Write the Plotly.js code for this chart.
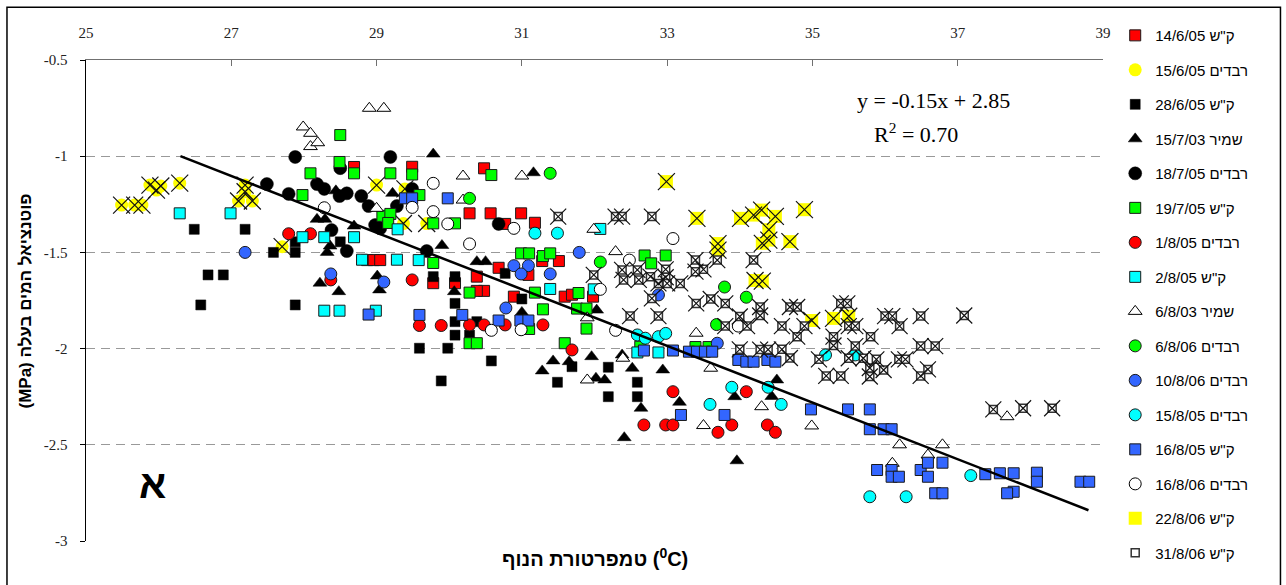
<!DOCTYPE html>
<html><head><meta charset="utf-8">
<script src="https://cdn.plot.ly/plotly-3.0.1.min.js"></script>
<style>body{margin:0;background:#fff}#chart{width:1286px;height:585px}</style>
</head><body><div id="chart"></div>
<script>
const LRM = '\u200E';
// ---- series names (legend labels) ----
const names = [
  '14/6/05 ק"ש', '15/6/05 רבדים', '28/6/05 ק"ש', '15/7/03 שמיר',
  '18/7/05 רבדים', '19/7/05 ק"ש', '1/8/05 רבדים', '2/8/05 ק"ש',
  '6/8/03 שמיר', '6/8/06 רבדים', '10/8/06 רבדים', '15/8/05 רבדים',
  '16/8/05 ק"ש', '16/8/06 רבדים', '22/8/06 ק"ש', '31/8/06 ק"ש'
];
// ---- 14/6/05 ק"ש ----
const s1x = [28.69,29.49,30.48,30.28,30.57,30.99,31.18,30.77,28.87,28.96,29.05,29.78,30.08,30.38,30.48,30.38,30.68,31.09,31.28,31.51,30.89,31.59,31.69,31.98];
const s1y = [-1.056,-1.055,-1.063,-1.297,-1.297,-1.297,-1.346,-1.352,-1.54,-1.54,-1.54,-1.66,-1.66,-1.626,-1.70,-1.70,-1.58,-1.617,-1.545,-1.545,-1.73,-1.73,-1.72,-1.73];
// ---- 15/6/05 רבדים ----
const s2x = [25.49,25.67,25.77,25.88,25.97,26.03,26.29,27.10,27.19,27.19,27.29,27.70,29.00,29.39,29.37,29.69];
const s2y = [-1.254,-1.254,-1.254,-1.15,-1.176,-1.155,-1.14,-1.233,-1.15,-1.185,-1.233,-1.47,-1.15,-1.17,-1.35,-1.35];
// ---- 28/6/05 ק"ש ----
const s3x = [26.49,26.68,26.89,26.58,27.19,27.58,27.88,27.88,27.88,28.50,29.78,30.08,30.77,31.00,30.08,30.08,30.38,30.08,30.28,29.59,29.98,30.58,29.89,31.49,31.69,32.19,32.59,32.19,32.59];
const s3y = [-1.38,-1.617,-1.617,-1.773,-1.38,-1.50,-1.50,-1.445,-1.773,-1.445,-1.626,-1.626,-1.609,-1.742,-1.765,-1.86,-1.86,-1.93,-1.93,-1.998,-1.998,-2.064,-2.168,-2.175,-2.094,-2.097,-2.175,-2.25,-2.25];
// ---- 15/7/03 שמיר ----
const s4x = [29.78,31.16,29.22,28.44,28.18,28.29,28.69,28.36,28.32,29.90,30.38,30.50,29.01,29.04,28.22,28.48,30.07,31.00,32.03,31.28,31.43,31.65,31.96,32.02,32.14,32.52,32.38,32.94,32.64,33.17,32.41,33.93,33.96,34.51,34.44];
const s4y = [-0.989,-1.086,-1.193,-1.18,-1.328,-1.328,-1.363,-1.467,-1.50,-1.464,-1.548,-1.548,-1.623,-1.695,-1.66,-1.704,-1.704,-1.812,-1.80,-2.116,-2.064,-2.068,-2.042,-2.154,-2.163,-2.102,-2.033,-2.111,-2.31,-2.279,-2.463,-2.25,-2.583,-2.163,-2.249];
// ---- 18/7/05 רבדים ----
const s5x = [27.88,29.19,27.49,27.79,28.18,28.28,28.49,28.59,28.79,28.89,29.28,29.49,28.50,28.38,28.59,28.98,29.05,29.69,30.68];
const s5y = [-1.004,-1.004,-1.145,-1.196,-1.145,-1.17,-1.207,-1.193,-1.207,-1.259,-1.259,-1.17,-1.062,-1.384,-1.493,-1.358,-1.375,-1.493,-1.352];
// ---- 19/7/05 ק"ש ----
const s6x = [28.50,28.49,28.69,28.09,27.98,29.19,29.49,29.59,29.08,29.19,29.16,29.78,29.78,30.58,30.08,30.99,31.10,31.29,31.39,31.18,31.78,30.28,31.29,31.76,31.89,31.89,31.10,30.28,30.38,31.59,32.69,32.98,32.78,32.63,33.39,33.57];
const s6y = [-0.89,-1.03,-1.089,-1.089,-1.202,-1.089,-1.095,-1.202,-1.31,-1.30,-1.347,-1.349,-1.555,-1.098,-1.349,-1.505,-1.505,-1.519,-1.505,-1.709,-1.711,-1.709,-1.796,-1.792,-1.792,-1.896,-1.898,-1.972,-1.972,-1.972,-1.516,-1.516,-1.557,-1.99,-1.992,-1.992];
// ---- 1/8/05 רבדים ----
const s7x = [27.79,28.09,28.37,29.49,29.59,29.89,30.28,30.48,30.77,31.29,31.69,33.08,32.68,32.98,33.08,33.70,33.89,34.09,34.38,34.49];
const s7y = [-1.403,-1.403,-1.643,-1.643,-1.88,-1.88,-1.877,-1.877,-1.877,-1.877,-2.007,-2.224,-2.397,-2.397,-2.397,-2.435,-2.397,-2.224,-2.397,-2.435];
// ---- 2/8/05 ק"ש ----
const s8x = [26.29,26.99,27.98,28.28,28.69,28.80,29.28,29.58,29.29,28.28,28.49,28.99,31.39,31.99,32.08,32.59,32.88];
const s8y = [-1.297,-1.297,-1.421,-1.421,-1.421,-1.538,-1.538,-1.54,-1.38,-1.803,-1.803,-1.803,-1.69,-1.692,-1.378,-2.02,-2.02];
// ---- 6/8/03 שמיר ----
const s9x = [27.99,28.09,28.09,28.19,28.90,29.10,29.00,30.19,31.00,30.19,31.99,32.29,31.90,32.39,31.90,33.40,33.60,33.50,34.30,34.99,36.20,36.59,36.79,36.10,37.68];
const s9y = [-0.848,-0.881,-0.95,-0.93,-0.751,-0.751,-1.271,-1.103,-1.103,-1.228,-1.38,-1.496,-1.84,-2.05,-2.163,-1.92,-2.102,-2.40,-2.302,-2.402,-2.50,-2.553,-2.50,-2.596,-2.354];
// ---- 6/8/06 רבדים ----
const s10x = [31.39,30.28,32.08,33.79,34.09,33.68];
const s10y = [-1.089,-1.219,-1.55,-1.68,-1.733,-1.875];
// ---- 10/8/06 רבדים ----
const s11x = [27.19,28.37,29.10,31.79,30.89,31.09,30.99,31.39,30.78,32.88,33.69];
const s11y = [-1.50,-1.612,-1.654,-1.50,-1.569,-1.569,-1.612,-1.612,-1.789,-1.721,-1.972];
// ---- 15/8/05 רבדים ----
const s12x = [31.18,31.49,32.59,32.70,32.88,32.98,33.89,33.59,34.39,34.57,35.18,35.59,37.18,35.79,36.29];
const s12y = [-1.40,-1.40,-1.929,-1.946,-1.938,-1.921,-2.201,-2.29,-2.201,-2.29,-2.033,-2.033,-2.66,-2.77,-2.77];
// ---- 16/8/05 ק"ש ----
const s13x = [29.39,29.49,29.98,28.89,29.59,30.18,30.68,30.98,31.09,32.68,33.08,33.30,33.41,33.52,33.62,33.98,34.09,34.19,34.38,34.49,33.19,33.79,34.98,35.49,35.79,35.79,35.98,36.09,35.89,36.09,36.09,36.19,36.49,36.59,36.79,36.59,36.69,36.79,37.38,37.58,37.77,37.77,37.68,38.09,38.09,38.69,38.81];
const s13y = [-1.219,-1.219,-1.219,-1.823,-1.825,-1.825,-1.854,-1.854,-1.854,-2.01,-2.01,-2.016,-2.016,-2.016,-2.016,-2.059,-2.068,-2.068,-2.059,-2.068,-2.345,-2.345,-2.316,-2.316,-2.316,-2.419,-2.419,-2.419,-2.631,-2.631,-2.666,-2.666,-2.631,-2.593,-2.593,-2.666,-2.752,-2.752,-2.653,-2.648,-2.648,-2.744,-2.752,-2.645,-2.692,-2.692,-2.692];
// ---- 16/8/06 רבדים ----
const s14x = [28.28,29.78,29.49,29.78,29.98,30.89,30.28,30.58,30.99,32.08,32.29,33.08,32.48,33.98];
const s14y = [-1.268,-1.141,-1.266,-1.288,-1.352,-1.375,-1.456,-1.905,-1.902,-1.692,-1.905,-1.428,-1.54,-1.883];
// ---- 22/8/06 ק"ש ----
const s15x = [32.99,33.41,34.01,34.19,34.30,34.49,34.89,34.40,34.31,34.40,34.69,33.70,33.70,34.21,34.31,34.99,35.29,35.50];
const s15y = [-1.132,-1.323,-1.323,-1.306,-1.28,-1.313,-1.278,-1.382,-1.453,-1.436,-1.444,-1.454,-1.488,-1.646,-1.649,-1.854,-1.843,-1.832];
// ---- 31/8/06 ק"ש ----
const s16x = [31.50,32.29,32.38,32.79,31.99,32.38,32.40,32.59,32.61,32.77,32.98,32.98,32.79,32.88,33.00,33.18,33.39,33.39,33.50,33.69,34.19,32.49,32.88,33.40,33.60,33.80,34.00,34.10,33.80,34.28,34.28,34.58,34.69,34.79,34.79,34.89,35.39,35.48,35.29,35.29,35.50,35.59,35.59,35.80,36.00,36.10,36.20,36.49,37.09,36.49,36.69,34.00,34.28,34.39,34.58,34.69,35.09,35.50,35.70,35.88,36.19,36.28,35.19,35.39,35.79,35.79,35.98,36.49,36.59,37.49,37.90,38.30];
const s16y = [-1.314,-1.314,-1.314,-1.314,-1.617,-1.591,-1.643,-1.591,-1.643,-1.626,-1.588,-1.629,-1.739,-1.661,-1.661,-1.661,-1.60,-1.54,-1.588,-1.54,-1.54,-1.831,-1.831,-1.765,-1.742,-1.765,-1.833,-1.883,-1.883,-1.784,-1.828,-1.883,-1.784,-1.784,-1.938,-1.883,-1.765,-1.765,-1.938,-1.984,-1.883,-1.883,-1.987,-1.938,-1.831,-1.831,-1.883,-1.831,-1.828,-1.987,-1.987,-2.004,-2.005,-2.005,-2.004,-2.049,-2.056,-2.05,-2.05,-2.056,-2.056,-2.056,-2.142,-2.142,-2.101,-2.145,-2.111,-2.142,-2.108,-2.316,-2.31,-2.31];
// ---- trend line ----
const trendX = [26.3, 38.8];
const trendY = [-1.0, -2.84];
// ---- ticks ----
const xTickVals = [25,27,29,31,33,35,37,39];
const yTickVals = [-3,-2.5,-2,-1.5,-1,-0.5];
const yTickText = ['-3','-2.5','-2','-1.5','-1','-0.5'];

const OUT = '#1a1a1a';
function mk(i, x, y, symbol, size, color, lc, lw) {
  return {type:'scatter', mode:'markers', x:x, y:y, name:LRM + names[i], legendgroup:'g'+i,
    marker:{symbol:symbol, size:size, color:color, line:{color:lc, width:lw}}, hoverinfo:'skip'};
}
function xo(i, x, y, size) {
  return {type:'scatter', mode:'markers', x:x, y:y, name:names[i], legendgroup:'g'+i, showlegend:false,
    marker:{symbol:'x-thin-open', size:size, color:'#111', line:{color:'#111', width:1.2}}, hoverinfo:'skip'};
}
const data = [
  mk(0, s1x, s1y, 'square', 11, '#FF0000', OUT, 1),
  mk(1, s2x, s2y, 'circle', 13, '#FFFF00', '#FFFF00', 0),
  xo(1, s2x, s2y, 17),
  mk(2, s3x, s3y, 'square', 10, '#000000', '#000000', 0.5),
  mk(3, s4x, s4y, 'triangle-up', 12, '#000000', '#000000', 0.5),
  mk(4, s5x, s5y, 'circle', 13, '#000000', '#000000', 0.5),
  mk(5, s6x, s6y, 'square', 11, '#00FF00', OUT, 1),
  mk(6, s7x, s7y, 'circle', 12, '#FF0000', OUT, 1),
  mk(7, s8x, s8y, 'square', 11, '#00FFFF', OUT, 1),
  mk(8, s9x, s9y, 'triangle-up', 12, '#FFFFFF', '#000000', 1),
  mk(9, s10x, s10y, 'circle', 12, '#00FF00', OUT, 1),
  mk(10, s11x, s11y, 'circle', 12, '#3366FF', OUT, 1),
  mk(11, s12x, s12y, 'circle', 12, '#00FFFF', OUT, 1),
  mk(12, s13x, s13y, 'square', 11, '#3366FF', OUT, 1),
  mk(13, s14x, s14y, 'circle', 12, '#FFFFFF', '#000000', 1),
  mk(14, s15x, s15y, 'square', 13, '#FFFF00', '#FFFF00', 0),
  xo(14, s15x, s15y, 17),
  mk(15, s16x, s16y, 'square', 8, '#FFFFFF', '#333333', 1.5),
  xo(15, s16x, s16y, 16),
  {type:'scatter', mode:'lines', x:trendX, y:trendY, showlegend:false, hoverinfo:'skip',
   line:{color:'#000000', width:2.5}}
];

const serif = 'Liberation Serif, Times New Roman, serif';
const sans = 'Liberation Sans, Arial, sans-serif';
const layout = {
  width:1286, height:585,
  margin:{l:86, r:183, t:60, b:44},
  paper_bgcolor:'#ffffff', plot_bgcolor:'#ffffff',
  showlegend:true,
  xaxis:{range:[25,39], side:'top', tickvals:xTickVals, ticks:'inside', ticklen:6,
    tickcolor:'#707070', showline:true, linecolor:'#707070', linewidth:1.5, showgrid:false, zeroline:false,
    tickfont:{family:serif, size:15, color:'#222'}, ticklabelstandoff:15, fixedrange:true},
  yaxis:{range:[-3,-0.5], tickvals:yTickVals, ticktext:yTickText, ticks:'outside', ticklen:5,
    tickcolor:'#000', showline:true, linecolor:'#000', linewidth:1.5, showgrid:true,
    gridcolor:'#999999', griddash:'9px,6px', gridwidth:1, zeroline:false,
    tickfont:{family:serif, size:15, color:'#222'}, ticklabelstandoff:9, fixedrange:true},
  legend:{x:1.012, xanchor:'left', y:1.085, yanchor:'top', traceorder:'grouped', tracegroupgap:12,
    maxheight:1, font:{family:sans, size:15, color:'#000'}, bgcolor:'rgba(0,0,0,0)', borderwidth:0},
  annotations:[
    {xref:'x', yref:'y', x:36.67, y:-0.713, text:'y = -0.15x + 2.85', showarrow:false,
     font:{family:serif, size:22, color:'#000'}},
    {xref:'x', yref:'y', x:36.42, y:-0.879, text:'R<sup>2</sup> = 0.70', showarrow:false,
     font:{family:serif, size:22, color:'#000'}},
    {xref:'paper', yref:'paper', x:0.05, y:0.068, text:'<b>א</b>', showarrow:false,
     font:{family:sans, size:40, color:'#000'}},
    {xref:'paper', yref:'paper', x:0.5, y:-0.064, text:LRM + '<b>טמפרטורת הנוף ' + LRM + '(<sup>0</sup>C)</b>', showarrow:false,
     font:{family:sans, size:20, color:'#000'}},
    {xref:'paper', yref:'paper', x:-0.059, xanchor:'center', y:0.5, text:LRM + '<b>(MPa) פוטנציאל המים בעלה</b>', showarrow:false,
     textangle:-90, font:{family:sans, size:17, color:'#000'}}
  ],
  shapes:[
    {type:'rect', xref:'paper', yref:'paper', x0:-0.0777, x1:1.1745, y0:-0.11, y1:1.1095,
     line:{color:'#000', width:1.5}, fillcolor:'rgba(0,0,0,0)', layer:'above'}
  ]
};
Plotly.newPlot('chart', data, layout, {staticPlot:true, displayModeBar:false});
</script></body></html>
